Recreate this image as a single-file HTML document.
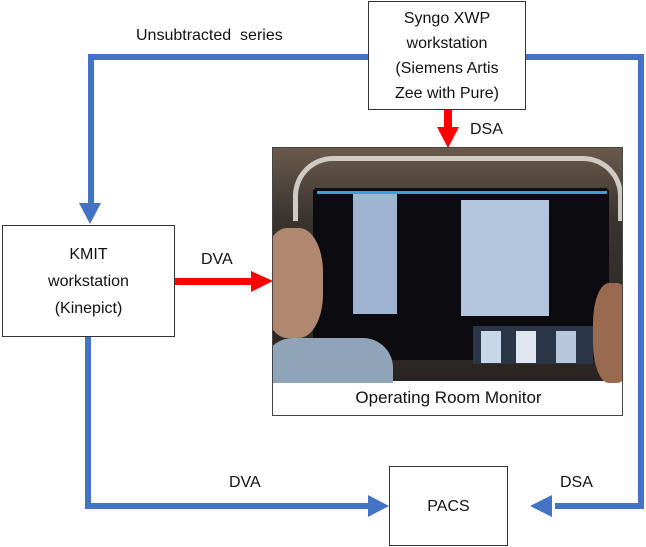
<!DOCTYPE html>
<html><head><style>
body{margin:0;width:646px;height:547px;background:#fff;position:relative;overflow:hidden;font-family:"Liberation Sans",sans-serif;}
.box{position:absolute;border:1.5px solid #333;background:#fff;box-sizing:border-box;text-align:center;color:#111;font-size:16px;display:flex;align-items:center;justify-content:center;line-height:25px}
.lbl{position:absolute;font-size:16px;color:#111}
.p{position:absolute}
</style></head><body>
<svg width="646" height="547" style="position:absolute;left:0;top:0">
<g fill="none" stroke="#4472c4" stroke-width="6">
<polyline points="370,57 91,57 91,205"/>
<polyline points="525,57 641,57 641,506 555,506"/>
<polyline points="88,337 88,506 370,506"/>
</g>
<g fill="#4472c4">
<polygon points="79,203 101,203 90,224"/>
<polygon points="368,495 368,517 389,506"/>
<polygon points="530,506 552,495 552,517"/>
</g>
<g fill="#ff0000">
<rect x="444" y="109" width="8" height="20"/>
<polygon points="437,127 459,127 448,148"/>
<rect x="174" y="278" width="80" height="7"/>
<polygon points="251,271 251,292 273,281"/>
</g>
</svg>
<div class="box" style="left:368px;top:1px;width:158px;height:109px">Syngo XWP<br>workstation<br>(Siemens Artis<br>Zee with Pure)</div>
<div class="box" style="left:2px;top:225px;width:173px;height:112px;line-height:27px">KMIT<br>workstation<br>(Kinepict)</div>
<div class="box" style="left:389px;top:466px;width:119px;height:80px">PACS</div>
<div class="lbl" style="left:136px;top:27px">Unsubtracted&nbsp; series</div>
<div class="lbl" style="left:470px;top:121px">DSA</div>
<div class="lbl" style="left:201px;top:251px">DVA</div>
<div class="lbl" style="left:229px;top:474px">DVA</div>
<div class="lbl" style="left:560px;top:474px">DSA</div>
<!-- photo -->
<div class="p" style="left:272px;top:147px;width:351px;height:269px;border:1px solid #444;box-sizing:border-box;background:#fff;overflow:hidden">
 <div class="p" style="left:0;top:0;width:351px;height:233px;background:linear-gradient(#6a5a4c,#3a3430 30%,#2a2422)"></div>
 <div class="p" style="left:20px;top:8px;width:320px;height:60px;border:5px solid #cfcac4;border-bottom:none;border-radius:40px 40px 0 0"></div>
 <div class="p" style="left:40px;top:40px;width:296px;height:172px;background:#0c0c10;border-radius:4px"></div>
 <div class="p" style="left:44px;top:43px;width:290px;height:3px;background:#3aa0d0"></div>
 <div class="p" style="left:80px;top:46px;width:44px;height:120px;background:#9fb4d0"></div>
 <div class="p" style="left:188px;top:52px;width:88px;height:116px;background:#b4c6de"></div>
 <div class="p" style="left:200px;top:178px;width:120px;height:38px;background:#2a3548"></div>
 <div class="p" style="left:208px;top:183px;width:20px;height:32px;background:#c7d6e8"></div>
 <div class="p" style="left:243px;top:183px;width:20px;height:32px;background:#dfe6ef"></div>
 <div class="p" style="left:283px;top:183px;width:20px;height:32px;background:#b8c8dc"></div>
 <div class="p" style="left:-10px;top:80px;width:60px;height:110px;background:#b08870;border-radius:40%"></div>
 <div class="p" style="left:-10px;top:190px;width:130px;height:45px;background:#8fa4b8;border-radius:30px 30px 0 0"></div>
 <div class="p" style="left:320px;top:135px;width:40px;height:100px;background:#9a6a50;border-radius:40%"></div>
 <div class="p" style="left:0;top:233px;width:351px;height:36px;text-align:center;font-size:17px;line-height:34px;color:#111">Operating Room Monitor</div>
</div>
</body></html>
